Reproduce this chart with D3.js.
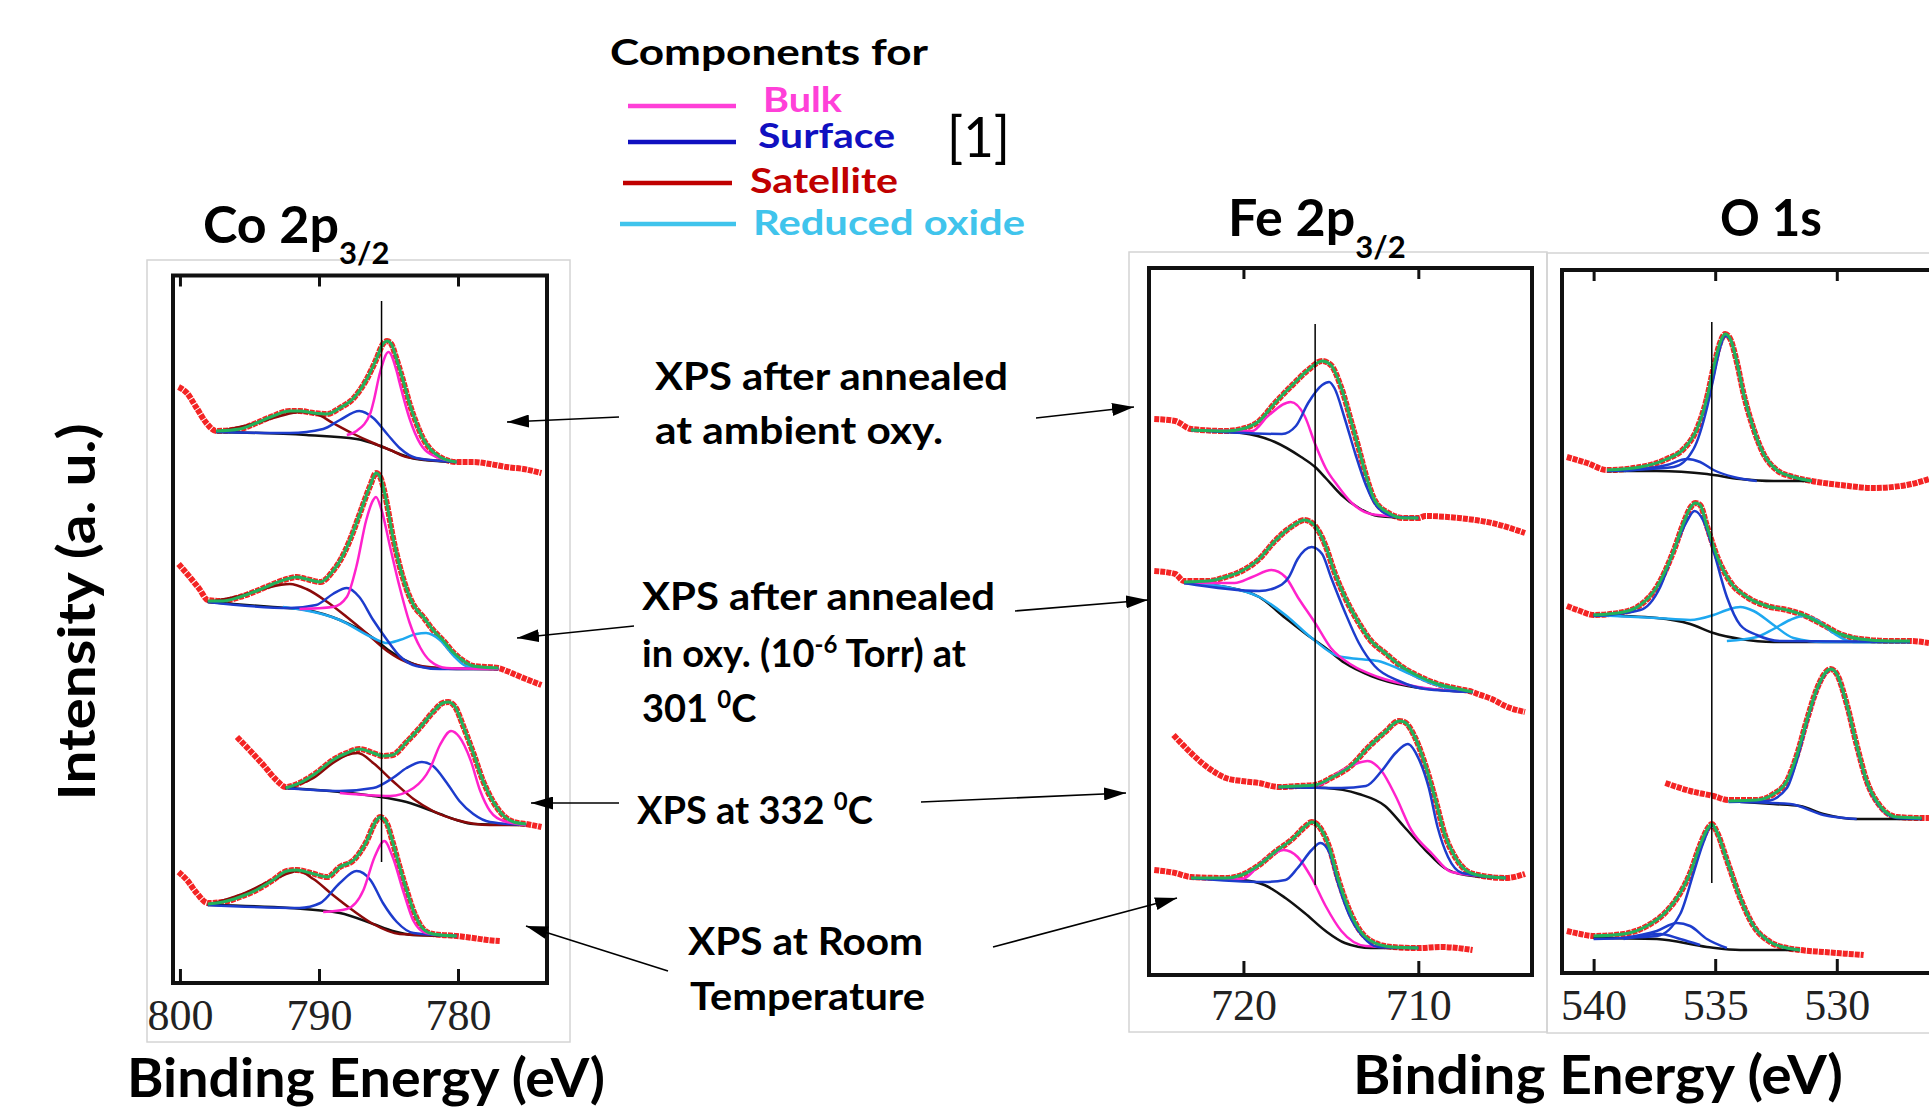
<!DOCTYPE html>
<html>
<head>
<meta charset="utf-8">
<script src="https://cdn.jsdelivr.net/npm/d3@7"></script>
<style>
  body { margin: 0; background: #fff; }
  svg { display: block; font-family: Lato, "Open Sans", sans-serif; }
</style>
</head>
<body>
<svg id="fig" width="1929" height="1116"></svg>
<script>
// every curve is [binding energy (eV), intensity (a.u.)]

// ---------- Co 2p3/2 ----------
// annealed at ambient oxygen
const coAmbDataL = [[800.1,596],[799.5,590],[798.8,575],[798.1,560],[797.4,552]];
const coAmbFit = [[797.4,552],[795.7,554],[794.5,560],[793.3,567],[792.1,572],[791.4,572],[790.4,570],[789.4,569],[788.5,575],[787.5,585],[786.6,603],[785.9,623],[785.4,639],[785.1,642],[784.8,639],[784.4,623],[783.9,600],[783.5,580],[783.0,560],[782.5,544],[782.0,534],[781.3,526],[780.1,521]];
const coAmbDataR = [[780.1,521],[778.9,521],[777.7,519],[776.5,516],[775.3,514],[774.0,510]];
const coAmbBg = [[797.4,551],[790.9,548],[787.3,544],[785.6,537],[784.2,529],[783.0,524],[780.1,521]];
const coAmbSat = [[797.4,551],[794.5,560],[792.8,567],[791.4,571],[790.2,569],[789.0,560],[787.5,549],[786.1,540],[784.7,532],[783.7,526],[780.1,521]];
const coAmbSurf = [[797.4,551],[792.1,550],[789.7,554],[788.5,563],[787.1,572],[786.1,565],[785.1,549],[784.2,535],[783.0,525],[780.1,521]];
const coAmbBulk = [[788.0,548],[787.3,552],[786.3,570],[786.1,580],[785.6,611],[785.0,631],[784.4,611],[784.2,600],[783.5,565],[782.7,539],[782.0,529],[780.1,521]];

// annealed in 1e-6 Torr oxygen at 301 C
const co301DataL = [[800.1,419],[799.3,406],[798.6,394],[798.0,383]];
const co301Fit = [[798.0,382],[796.9,382],[795.7,386],[794.5,392],[793.3,399],[792.3,404],[791.6,406],[790.9,404],[789.9,401],[789.0,412],[788.5,422],[787.8,442],[787.1,468],[786.3,498],[785.9,510],[785.6,506],[785.1,478],[784.7,447],[784.2,417],[783.7,394],[783.2,378],[782.5,366],[781.8,353],[781.1,343],[780.3,330],[779.6,322],[778.9,317],[777.1,315]];
const co301DataR = [[777.1,315],[776.5,312],[775.3,305],[774.0,298]];
const co301Bg = [[798.0,381],[793.3,376],[790.9,373],[788.5,363],[786.1,345],[784.9,332],[783.7,322],[782.5,316],[780.1,314],[777.1,314]];
const co301Sat = [[798.0,381],[795.7,387],[793.8,395],[792.1,399],[790.9,394],[789.4,381],[788.0,366],[786.6,350],[785.1,332],[783.7,321],[781.3,315],[777.1,314]];
const co301Rox = [[792.6,376],[788.5,363],[786.1,345],[785.1,340],[784.2,343],[783.0,349],[782.3,350],[781.3,343],[780.3,327],[779.4,317],[777.1,314]];
const co301Surf = [[798.0,381],[792.1,375],[790.2,378],[789.0,389],[788.0,395],[787.1,386],[786.1,363],[785.1,343],[784.2,327],[783.0,317],[781.3,314],[777.1,314]];
const co301Bulk = [[791.4,374],[789.0,376],[788.0,386],[787.3,417],[786.6,463],[786.1,483],[785.9,486],[785.5,473],[784.9,437],[784.2,396],[783.5,361],[782.7,335],[782.0,322],[780.8,315],[777.1,314]];

// at 332 C
const co332DataL = [[795.9,246],[795.0,233],[794.0,218],[793.0,202],[792.4,196]];
const co332Fit = [[792.4,195],[791.4,200],[790.2,210],[789.0,223],[788.0,230],[787.1,234],[786.1,230],[785.4,227],[784.7,228],[783.7,241],[782.7,256],[781.8,271],[781.1,280],[780.7,281],[780.2,276],[779.6,256],[778.9,230],[778.2,202],[777.5,182],[776.7,167],[776.0,161],[775.1,159]];
const co332DataR = [[775.1,159],[774.0,156]];
const co332Bg = [[792.4,195],[788.5,191],[786.1,187],[783.7,181],[781.3,169],[780.1,163],[778.9,159],[775.1,158]];
const co332Sat = [[792.4,195],[790.4,205],[789.0,220],[788.0,228],[787.2,230],[786.1,220],[784.7,202],[783.2,184],[781.8,172],[780.1,163],[777.7,158],[775.1,158]];
const co332Surf = [[792.4,195],[788.5,192],[786.1,195],[784.7,205],[783.7,215],[782.6,221],[781.8,217],[780.8,200],[779.9,182],[778.9,169],[777.7,161],[775.1,158]];
const co332Bulk = [[788.5,190],[784.9,187],[783.2,195],[782.0,215],[781.3,238],[780.5,252],[779.9,246],[779.1,223],[778.4,192],[777.7,172],[776.7,162],[775.1,158]];

// room temperature
const coRTDataL = [[800.1,111],[799.5,103],[798.8,90],[798.0,80]];
const coRTFit = [[798.0,79],[796.9,81],[795.7,86],[794.5,93],[793.3,103],[792.3,112],[791.6,113],[790.6,110],[789.4,106],[788.5,116],[787.5,123],[786.6,141],[785.9,162],[785.6,166],[785.1,159],[784.7,141],[784.2,116],[783.7,93],[783.2,72],[782.5,54],[781.8,49],[780.1,47]];
const coRTDataR = [[780.1,47],[778.9,45],[777.9,43],[777.0,42]];
const coRTBg = [[798.0,78],[792.1,75],[788.5,70],[786.1,59],[784.7,52],[783.2,48],[780.1,47]];
const coRTSat = [[798.0,78],[795.7,88],[793.3,103],[791.5,112],[790.4,104],[789.0,88],[787.5,72],[786.1,59],[784.2,49],[780.1,47]];
const coRTSurf = [[798.0,78],[791.4,75],[789.9,80],[788.5,100],[787.3,112],[786.3,103],[785.4,80],[784.4,61],[783.2,50],[780.1,47]];
const coRTBulk = [[789.7,71],[788.0,74],[786.8,93],[786.0,126],[785.3,142],[784.7,126],[783.9,90],[783.2,62],[782.3,50],[780.1,47]];

// ---------- Fe 2p3/2 ----------
const feAmbDataL = [[725.1,556],[723.9,554],[723.0,546]];
const feAmbFit = [[723.0,545],[721.0,544],[720.1,546],[719.1,554],[718.2,572],[717.2,590],[716.3,605],[715.5,614],[715.0,610],[714.4,587],[713.8,551],[713.4,526],[713.0,500],[712.5,475],[711.7,462],[710.8,457],[710.0,457]];
const feAmbDataR = [[710.0,457],[709.6,459],[707.7,457],[705.8,452],[703.9,442]];
const feAmbBg = [[723.0,545],[720.1,542],[718.2,533],[716.7,518],[715.9,508],[715.3,497],[714.4,480],[713.4,467],[712.3,459],[710.0,457]];
const feAmbBulk = [[723.0,545],[719.5,544],[718.6,559],[717.3,573],[716.5,559],[715.9,531],[715.3,507],[714.6,489],[713.8,472],[712.7,461],[710.0,457]];
const feAmbSurf = [[723.0,545],[717.8,541],[717.0,549],[716.3,572],[715.5,590],[715.1,593],[714.8,587],[714.2,556],[713.6,521],[713.0,490],[712.3,467],[711.3,458],[710.0,457]];

const fe301DataL = [[725.1,404],[723.9,401],[723.4,394]];
const fe301Fit = [[723.4,393],[722.0,394],[721.0,398],[720.1,404],[719.1,416],[718.2,434],[717.2,449],[716.5,455],[715.9,449],[715.3,429],[714.8,403],[714.2,378],[713.4,352],[712.7,334],[711.9,322],[711.0,309],[710.0,299],[708.9,291],[707.7,286],[706.9,283]];
const fe301DataR = [[706.9,283],[706.6,281],[705.8,276],[704.9,268],[703.9,263]];
const fe301Bg = [[723.4,392],[721.0,388],[719.1,378],[717.6,357],[716.5,342],[715.3,327],[714.2,312],[712.7,299],[710.6,289],[706.9,283]];
const fe301Rox = [[723.4,392],[721.0,388],[719.1,378],[717.6,360],[716.1,337],[714.6,319],[713.4,316],[712.3,314],[711.1,306],[709.6,294],[708.1,286],[706.9,283]];
const fe301Bulk = [[723.4,392],[720.5,392],[719.5,398],[718.4,405],[717.6,398],[716.9,378],[715.9,352],[715.0,327],[713.8,310],[712.3,298],[710.0,288],[706.9,283]];
const fe301Surf = [[723.4,392],[719.1,384],[718.2,387],[717.4,398],[716.9,416],[716.1,428],[715.5,421],[715.0,398],[714.2,363],[713.4,332],[712.5,309],[711.1,294],[709.6,286],[706.9,283]];

const fe332DataL = [[724.0,240],[723.0,222],[722.0,207],[721.0,197],[720.1,194],[719.1,192],[718.0,188]];
const fe332Fit = [[718.0,188],[716.9,189],[715.9,190],[715.0,197],[713.8,210],[712.9,227],[711.9,243],[711.1,254],[710.8,253],[710.2,238],[709.6,210],[709.0,174],[708.5,141],[707.9,118],[707.3,105],[706.6,100],[705.0,97]];
const fe332DataR = [[705.0,97],[703.9,101]];
const fe332Bg = [[718.0,188],[715.3,187],[713.4,181],[711.9,169],[710.8,148],[709.6,125],[708.5,107],[707.3,100],[705.0,97]];
const fe332Bulk = [[718.0,188],[715.7,190],[714.6,202],[713.6,211],[712.9,214],[712.1,204],[711.3,179],[710.4,145],[709.2,121],[708.1,103],[705.0,97]];
const fe332Surf = [[718.0,188],[714.4,187],[713.0,189],[712.1,204],[711.3,222],[710.6,231],[710.0,217],[709.4,187],[708.9,148],[708.3,118],[707.5,102],[705.0,97]];

const feRTDataL = [[725.1,105],[723.9,102],[723.0,98]];
const feRTFit = [[723.0,97],[721.0,97],[720.1,100],[719.1,110],[718.2,123],[717.2,136],[716.5,148],[716.1,153],[715.7,149],[715.1,128],[714.6,97],[714.0,67],[713.4,46],[712.7,34],[711.5,28],[710.0,27]];
const feRTDataR = [[710.0,27],[708.7,28],[706.9,25]];
const feRTBg = [[723.0,97],[720.1,95],[718.8,90],[717.6,77],[716.5,62],[715.3,44],[714.2,32],[712.7,27],[710.0,27]];
const feRTBulk = [[723.0,97],[720.1,96],[718.8,115],[717.7,125],[716.9,118],[716.1,97],[715.3,69],[714.4,44],[713.0,29],[710.0,27]];
const feRTSurf = [[723.0,97],[718.8,93],[717.6,95],[716.9,107],[716.1,125],[715.6,132],[715.1,123],[714.6,92],[714.0,62],[713.2,39],[712.3,28],[710.0,27]];

// ---------- O 1s ----------
const oAmbDataL = [[541.10,516],[540.27,510],[539.45,503]];
const oAmbFit = [[539.45,503],[538.08,506],[536.99,514],[536.30,524],[535.75,544],[535.34,575],[535.07,605],[534.79,631],[534.59,639],[534.38,634],[534.11,611],[533.84,580],[533.42,544],[533.01,519],[532.47,503],[531.78,496],[531.03,492]];
const oAmbDataR = [[531.03,492],[529.86,488],[528.49,485],[527.12,488],[526.21,494]];
const oAmbBg = [[539.45,502],[537.40,502],[535.34,499],[533.97,494],[532.60,492],[531.03,492]];
const oAmbMain = [[539.45,502],[536.71,506],[535.89,524],[535.34,565],[535.07,595],[534.79,626],[534.59,637],[534.38,634],[534.11,611],[533.84,580],[533.42,544],[533.01,519],[532.47,503],[531.78,496],[531.03,492]];
const oAmbMinor = [[538.77,502],[536.99,508],[536.16,514],[535.62,511],[535.07,503],[534.25,496],[533.29,492]];

const o301DataL = [[541.10,367],[540.55,362],[540.00,358]];
const o301Fit = [[540.00,358],[538.77,361],[538.08,368],[537.40,386],[536.71,422],[536.30,450],[536.03,465],[535.82,470],[535.62,468],[535.34,447],[534.93,417],[534.38,391],[533.70,376],[532.88,367],[532.05,363],[531.37,358],[530.55,348],[529.86,339],[529.04,334],[527.81,332],[526.99,332]];
const o301DataR = [[526.99,332],[526.21,330]];
const o301Bg = [[540.00,358],[537.40,355],[536.03,349],[535.07,340],[533.97,334],[532.60,331],[526.99,331]];
const o301Main = [[540.00,357],[538.08,363],[537.26,386],[536.71,422],[536.16,452],[535.85,462],[535.48,452],[535.07,422],[534.52,376],[533.97,348],[533.29,338],[532.33,332],[526.99,331]];
const o301Rox1 = [[540.00,358],[537.40,355],[536.03,353],[535.07,358],[534.52,363],[533.97,366],[533.42,362],[532.60,348],[531.78,335],[530.55,331],[526.99,331]];
const o301Rox2 = [[534.52,332],[533.29,336],[532.60,344],[531.92,353],[531.37,357],[530.82,353],[530.14,340],[529.32,331],[526.99,331]];

const o332DataL = [[537.05,190],[536.03,182],[535.07,177],[534.45,173]];
const o332Fit = [[534.45,172],[533.29,173],[532.60,179],[532.05,192],[531.64,218],[531.23,253],[530.82,284],[530.41,302],[530.25,304],[530.00,299],[529.59,269],[529.18,228],[528.77,192],[528.22,167],[527.53,156],[526.51,155]];
const o332DataR = [[526.51,155],[526.21,155]];
const o332Bg = [[534.45,172],[532.60,169],[531.51,167],[530.55,159],[529.18,154],[526.51,154]];
const o332Main = [[534.45,171],[532.88,172],[532.05,185],[531.64,213],[531.23,251],[530.82,283],[530.41,301],[530.25,304],[530.00,299],[529.59,268],[529.18,227],[528.77,191],[528.22,166],[527.53,155],[526.51,154]];
const o332Minor = [[533.97,171],[531.92,169],[530.55,158],[529.18,154]];

const oRTDataL = [[541.10,42],[540.55,39],[540.00,37]];
const oRTFit = [[540.00,37],[538.77,39],[537.81,47],[536.99,62],[536.44,80],[536.03,100],[535.62,128],[535.27,146],[535.14,149],[534.93,141],[534.52,113],[533.97,75],[533.42,47],[532.74,31],[532.05,25],[531.51,23]];
const oRTDataR = [[531.51,23],[530.55,21],[528.90,18]];
const oRTBg = [[540.00,35],[537.40,34],[535.34,26],[533.97,23],[531.51,23]];
const oRTMain = [[540.00,34],[537.40,37],[536.44,59],[535.89,100],[535.48,131],[535.14,148],[534.93,141],[534.52,113],[533.97,75],[533.42,47],[532.74,31],[532.05,25],[531.51,23]];
const oRTMinor1 = [[538.77,35],[537.40,42],[536.58,50],[536.03,47],[535.34,34],[534.52,25]];
const oRTMinor2 = [[538.77,34],[537.26,39],[536.44,34],[535.62,28]];

// axis ticks and the vertical guide line (energy, intensity range)
const coTicks = [800, 790, 780];
const feTicks = [720, 710];
const oTicks = [540, 535, 530];
const coGuide = [[785.5,121],[785.5,682]];
const feGuide = [[715.9,90],[715.9,651]];
const oGuide = [[535.14,90],[535.14,651]];

const componentKeys = ["bulk", "surf", "sat", "rox"];
const componentNames = ["Bulk", "Surface", "Satellite", "Reduced oxide"];

// ---------- styling / layout ----------
const color = {
  bulk: "#ff22cc", surf: "#1d3ccc", sat: "#8b0a0a", rox: "#1ea8f0",
  fit: "#21b35b", data: "#f42424", bg: "#111111"
};
const legendTextColor = {bulk: "#ff40d8", surf: "#1010c0", sat: "#c00000", rox: "#40c4ec"};

const spectra = {
  co: [
    {dataL: coAmbDataL, fit: coAmbFit, dataR: coAmbDataR, bg: coAmbBg, comps: [["sat", coAmbSat], ["surf", coAmbSurf], ["bulk", coAmbBulk]]},
    {dataL: co301DataL, fit: co301Fit, dataR: co301DataR, bg: co301Bg, comps: [["sat", co301Sat], ["rox", co301Rox], ["surf", co301Surf], ["bulk", co301Bulk]]},
    {dataL: co332DataL, fit: co332Fit, dataR: co332DataR, bg: co332Bg, comps: [["sat", co332Sat], ["surf", co332Surf], ["bulk", co332Bulk]]},
    {dataL: coRTDataL, fit: coRTFit, dataR: coRTDataR, bg: coRTBg, comps: [["sat", coRTSat], ["surf", coRTSurf], ["bulk", coRTBulk]]}
  ],
  fe: [
    {dataL: feAmbDataL, fit: feAmbFit, dataR: feAmbDataR, bg: feAmbBg, comps: [["bulk", feAmbBulk], ["surf", feAmbSurf]]},
    {dataL: fe301DataL, fit: fe301Fit, dataR: fe301DataR, bg: fe301Bg, comps: [["rox", fe301Rox], ["bulk", fe301Bulk], ["surf", fe301Surf]]},
    {dataL: fe332DataL, fit: fe332Fit, dataR: fe332DataR, bg: fe332Bg, comps: [["bulk", fe332Bulk], ["surf", fe332Surf]]},
    {dataL: feRTDataL, fit: feRTFit, dataR: feRTDataR, bg: feRTBg, comps: [["bulk", feRTBulk], ["surf", feRTSurf]]}
  ],
  o: [
    {dataL: oAmbDataL, fit: oAmbFit, dataR: oAmbDataR, bg: oAmbBg, comps: [["surf", oAmbMinor], ["surf", oAmbMain]]},
    {dataL: o301DataL, fit: o301Fit, dataR: o301DataR, bg: o301Bg, comps: [["rox", o301Rox1], ["rox", o301Rox2], ["surf", o301Main]]},
    {dataL: o332DataL, fit: o332Fit, dataR: o332DataR, bg: o332Bg, comps: [["surf", o332Minor], ["surf", o332Main]]},
    {dataL: oRTDataL, fit: oRTFit, dataR: oRTDataR, bg: oRTBg, comps: [["surf", oRTMinor2], ["surf", oRTMinor1], ["surf", oRTMain]]}
  ]
};

const panels = [
  {key: "co", left: 173, right: 547, top: 275.5, bottom: 983, energy: [800.5, 773.6], ticks: coTicks, guide: coGuide, pad: 16, box: [147, 260, 570, 1042]},
  {key: "fe", left: 1149, right: 1532, top: 268, bottom: 975, energy: [725.4, 703.5], ticks: feTicks, guide: feGuide, pad: 14, box: [1129, 252, 1547, 1032]},
  {key: "o", left: 1562, right: 1945, top: 270, bottom: 973, energy: [541.3, 525.55], ticks: oTicks, guide: oGuide, pad: 16, box: [1547, 253, 1940, 1033]}
];

const svg = d3.select("#fig");

const defs = svg.append("defs");
defs.append("marker")
  .attr("id", "arrow")
  .attr("viewBox", "0 0 10 10")
  .attr("refX", 10).attr("refY", 5)
  .attr("markerWidth", 22).attr("markerHeight", 13)
  .attr("markerUnits", "userSpaceOnUse")
  .attr("preserveAspectRatio", "none")
  .attr("orient", "auto")
  .append("path").attr("d", "M0,0L10,5L0,10z").attr("fill", "#000");

function clean(pts) {
  return pts.filter((d, i) => i === 0 || d[0] !== pts[i - 1][0]);
}

panels.forEach(p => {
  const x = d3.scaleLinear().domain(p.energy).range([p.left, p.right]);
  const y = d3.scaleLinear().domain([0, 700]).range([p.bottom, p.bottom - 700]);
  const line = d3.line().x(d => x(d[0])).y(d => y(d[1])).curve(d3.curveMonotoneX);
  const g = svg.append("g").attr("class", "panel-" + p.key);

  // light border of the pasted image
  g.append("rect")
    .attr("x", p.box[0]).attr("y", p.box[1])
    .attr("width", p.box[2] - p.box[0]).attr("height", p.box[3] - p.box[1])
    .attr("fill", "none").attr("stroke", "#d4d4d4").attr("stroke-width", 1.5);

  spectra[p.key].forEach(s => {
    g.append("path")
      .attr("d", line(clean(s.dataL.concat(s.fit, s.dataR))))
      .attr("fill", "none").attr("stroke", color.data)
      .attr("stroke-width", 6).attr("stroke-dasharray", "5 1");
    g.append("path")
      .attr("d", line(clean(s.bg)))
      .attr("fill", "none").attr("stroke", color.bg).attr("stroke-width", 2.5);
    s.comps.forEach(([k, pts]) => {
      g.append("path")
        .attr("d", line(clean(pts)))
        .attr("fill", "none").attr("stroke", color[k]).attr("stroke-width", 2.5);
    });
    g.append("path")
      .attr("d", line(clean(s.fit)))
      .attr("fill", "none").attr("stroke", color.fit).attr("stroke-width", 3);
  });

  g.append("line")
    .attr("x1", x(p.guide[0][0])).attr("x2", x(p.guide[1][0]))
    .attr("y1", y(p.guide[0][1])).attr("y2", y(p.guide[1][1]))
    .attr("stroke", "#000").attr("stroke-width", 1.5);

  g.append("rect")
    .attr("x", p.left).attr("y", p.top)
    .attr("width", p.right - p.left).attr("height", p.bottom - p.top)
    .attr("fill", "none").attr("stroke", "#111").attr("stroke-width", 4);

  const topAxis = d3.axisTop(x).tickValues(p.ticks).tickSizeInner(-11).tickSizeOuter(0).tickFormat("");
  g.append("g").attr("transform", `translate(0,${p.top})`).call(topAxis)
    .call(a => a.select(".domain").remove())
    .call(a => a.selectAll("line").attr("stroke", "#111").attr("stroke-width", 3));

  const bottomAxis = d3.axisBottom(x).tickValues(p.ticks).tickSizeInner(-14).tickSizeOuter(0)
    .tickPadding(p.pad).tickFormat(d3.format("d"));
  g.append("g").attr("transform", `translate(0,${p.bottom})`).call(bottomAxis)
    .call(a => a.select(".domain").remove())
    .call(a => a.selectAll("line").attr("stroke", "#111").attr("stroke-width", 3))
    .call(a => a.selectAll("text")
      .attr("font-family", "'Liberation Serif', 'DejaVu Serif', serif")
      .attr("font-size", 44).attr("fill", "#222"));
});

// ---------- texts ----------
function label(t) {
  const el = svg.append("text")
    .attr("x", t.x).attr("y", t.y)
    .attr("font-size", t.size)
    .attr("font-weight", t.weight || 700)
    .attr("fill", t.fill || "#000");
  if (t.len) el.attr("textLength", t.len).attr("lengthAdjust", "spacingAndGlyphs");
  if (t.rotate) {
    el.attr("transform", `rotate(${t.rotate},${t.x},${t.y})`).attr("text-anchor", "middle");
  }
  if (!t.parts) { el.text(t.text); return; }
  let shift = 0;
  t.parts.forEach(part => {
    const want = part.shift || 0;
    const ts = el.append("tspan").text(part.text).attr("dy", want - shift);
    if (part.size) ts.attr("font-size", part.size);
    shift = want;
  });
}

// panel titles
label({x: 203, y: 243, size: 52, parts: [{text: "Co 2p"}, {text: "3/2", size: 31, shift: 21}]});
label({x: 1228, y: 236, size: 52, parts: [{text: "Fe 2p"}, {text: "3/2", size: 31, shift: 22}]});
label({x: 1720, y: 236, size: 52, text: "O 1s", len: 102});

// axis titles
label({x: 95, y: 612, size: 51, text: "Intensity (a. u.)", rotate: -90, len: 377});
label({x: 127, y: 1097, size: 53, text: "Binding Energy (eV)", len: 478});
label({x: 1353, y: 1094, size: 53, text: "Binding Energy (eV)", len: 490});

// legend
label({x: 610, y: 65, size: 37, text: "Components for", len: 318});
const legendLines = [[628, 736, 106], [628, 736, 142], [623, 732, 183], [620, 736, 224]];
const legendLabels = [[763, 112, 79], [758, 148, 137], [750, 193, 148], [753, 235, 272]];
componentKeys.forEach((k, i) => {
  const [x1, x2, ly] = legendLines[i];
  svg.append("line").attr("x1", x1).attr("x2", x2).attr("y1", ly).attr("y2", ly)
    .attr("stroke", legendTextColor[k]).attr("stroke-width", 4.5);
  const [tx, ty, len] = legendLabels[i];
  label({x: tx, y: ty, size: 34, text: componentNames[i], fill: legendTextColor[k], len: len});
});
label({x: 947, y: 157, size: 56, weight: 400, text: "[1]", len: 63});

// annotations
label({x: 655, y: 390, size: 38, text: "XPS after annealed", len: 353});
label({x: 655, y: 444, size: 38, text: "at ambient oxy.", len: 288});
label({x: 642, y: 610, size: 38, text: "XPS after annealed", len: 353});
label({x: 642, y: 667, size: 38, parts: [{text: "in oxy. (10"}, {text: "-6", size: 24, shift: -14}, {text: " Torr) at"}]});
label({x: 642, y: 722, size: 38, parts: [{text: "301 "}, {text: "0", size: 24, shift: -14}, {text: "C"}]});
label({x: 637, y: 824, size: 38, parts: [{text: "XPS at 332 "}, {text: "0", size: 24, shift: -14}, {text: "C"}]});
label({x: 688, y: 955, size: 38, text: "XPS at Room", len: 235});
label({x: 690, y: 1010, size: 38, text: "Temperature", len: 235});

// pointer arrows
const arrows = [
  [619, 417, 507, 422], [1036, 418, 1134, 407],
  [634, 626, 517, 638], [1015, 611, 1148, 600],
  [619, 803, 531, 803], [921, 802, 1126, 793],
  [668, 971, 526, 926], [993, 947, 1177, 898]
];
arrows.forEach(([x1, y1, x2, y2]) => {
  svg.append("line")
    .attr("x1", x1).attr("y1", y1).attr("x2", x2).attr("y2", y2)
    .attr("stroke", "#000").attr("stroke-width", 1.6)
    .attr("marker-end", "url(#arrow)");
});
</script>
</body>
</html>
